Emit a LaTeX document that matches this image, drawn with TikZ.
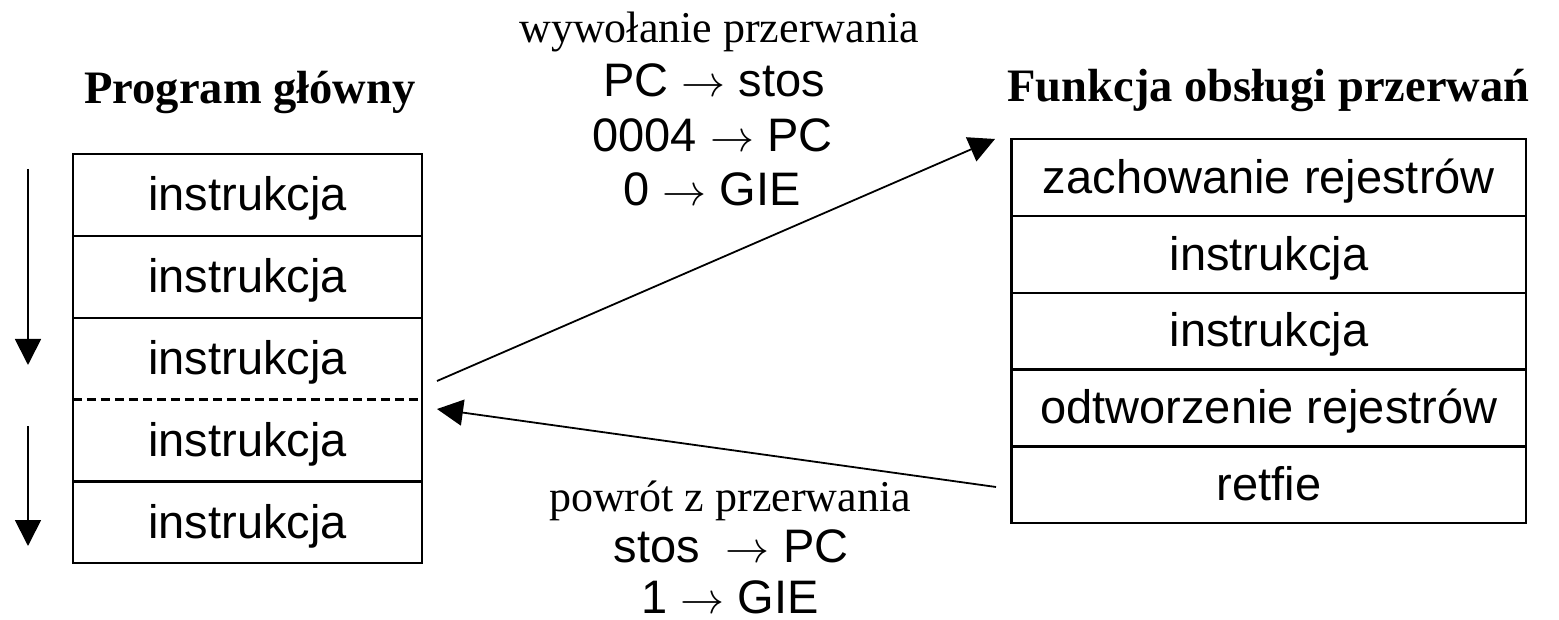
\documentclass[tikz,border=0pt]{standalone}
\usepackage{fix-cm}
\usepackage{fontspec}
\setmainfont{Liberation Serif}
\setsansfont{Liberation Sans}
\usetikzlibrary{arrows.meta}
\newcommand{\myarr}{{\fontsize{44}{52}\selectfont$\rightarrow$}}

\begin{document}
\begin{tikzpicture}[x=1pt,y=-1pt,
  rowtxt/.style={inner sep=0pt, text height=36pt, text depth=4pt, font=\sffamily\fontsize{47}{56}\selectfont},
  lrow/.style={rowtxt, minimum width=349pt, minimum height=81.8pt},
  rrow/.style={rowtxt, minimum width=514.3pt, minimum height=76.8pt},
  frame/.style={line width=2.2pt},
  flow/.style={line width=1.8pt, -{Triangle[length=26pt,width=26pt]}},
  title/.style={anchor=base, inner sep=0pt, font=\bfseries\fontsize{46.5}{55}\selectfont},
  caption/.style={anchor=base, inner sep=0pt, font=\fontsize{44}{53}\selectfont},
  op/.style={anchor=base, inner sep=0pt, font=\sffamily\fontsize{47}{56}\selectfont},
]
\useasboundingbox (0,0) rectangle (1559,620);

% titles
\node[title] (tL) at (250,104) {Program główny};
\node[title] (tR) at (1268.5,101.7) {Funkcja obsługi przerwań};

% left box rows
\node[lrow] (L1) at (247.5,194.9) {instrukcja};
\node[lrow] (L2) at (247.5,276.7) {instrukcja};
\node[lrow] (L3) at (247.5,358.5) {instrukcja};
\node[lrow] (L4) at (247.5,440.3) {instrukcja};
\node[lrow] (L5) at (247.5,522.1) {instrukcja};
\draw[frame] (L1.north west) rectangle (L5.south east);
\draw[frame] (L1.south west) -- (L1.south east);
\draw[frame] (L2.south west) -- (L2.south east);
\draw[frame, dash pattern=on 9pt off 5pt] (L3.south west) -- (L3.south east);
\draw[frame] (L4.south west) -- (L4.south east);

% right box rows
\node[rrow] (R1) at (1268.9,177.4) {zachowanie rejestrów};
\node[rrow] (R2) at (1268.9,254.2) {instrukcja};
\node[rrow] (R3) at (1268.9,331.0) {instrukcja};
\node[rrow] (R4) at (1268.9,407.8) {odtworzenie rejestrów};
\node[rrow] (R5) at (1268.9,484.6) {retfie};
\draw[frame] (R1.north west) rectangle (R5.south east);
\draw[frame] (R1.south west) -- (R1.south east);
\draw[frame] (R2.south west) -- (R2.south east);
\draw[frame] (R3.south west) -- (R3.south east);
\draw[frame] (R4.south west) -- (R4.south east);

% flow arrows on the left
\coordinate (a1s) at (28,169);
\coordinate (a1e) at (28,365);
\coordinate (a2s) at (28,426);
\coordinate (a2e) at (28,546);
\draw[flow] (a1s) -- (a1e);
\draw[flow] (a2s) -- (a2e);

% call and return arrows
\coordinate (callS) at (437,381);
\coordinate (callE) at (995,139);
\coordinate (retS) at (996,487);
\coordinate (retE) at (437,409);
\draw[flow] (callS) -- (callE);
\draw[flow] (retS) -- (retE);

% call texts
\node[caption] (c0) at (719,42.7) {wywołanie przerwania};
\node[op] (c1) at (714,97) {PC \myarr{} stos};
\node[op] (c2) at (712.5,152) {0004 \myarr{} PC};
\node[op] (c3) at (712,206) {0 \myarr{} GIE};

% return texts
\node[caption] (r0) at (730,511) {powrót z przerwania};
\node[op] (r1) at (731,562) {stos\ \ \myarr{} PC};
\node[op] (r2) at (730,613.5) {1 \myarr{} GIE};
\end{tikzpicture}
\end{document}
